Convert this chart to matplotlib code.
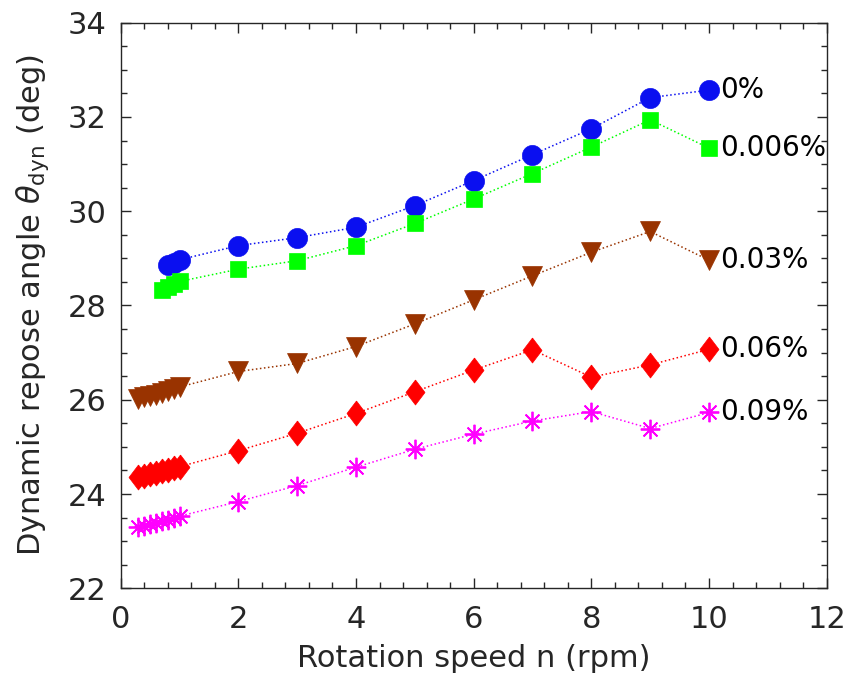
import matplotlib
matplotlib.use('Agg')
import matplotlib.pyplot as plt
import numpy as np

# rotation speed (rpm) for each series
n_low = [0.3, 0.4, 0.5, 0.6, 0.7, 0.8, 0.9, 1.0]
n_high = [2, 3, 4, 5, 6, 7, 8, 9, 10]

n_0 = [0.8, 0.9, 1.0] + n_high
theta_0 = [28.86, 28.91, 28.97, 29.27, 29.44, 29.66, 30.12, 30.65, 31.20, 31.75, 32.41, 32.57]

n_006 = [0.7, 0.8, 0.9, 1.0] + n_high
theta_006 = [28.33, 28.40, 28.45, 28.51, 28.77, 28.95, 29.27, 29.74, 30.26, 30.80, 31.36, 31.94, 31.34]

n_03 = n_low + n_high
theta_03 = [26.02, 26.05, 26.08, 26.11, 26.14, 26.18, 26.22, 26.27,
            26.60, 26.77, 27.13, 27.61, 28.12, 28.63, 29.13, 29.57, 28.96]

n_06 = n_low + n_high
theta_06 = [24.36, 24.39, 24.42, 24.45, 24.48, 24.51, 24.55, 24.58,
            24.92, 25.29, 25.71, 26.17, 26.63, 27.06, 26.48, 26.74, 27.07]

n_09 = n_low + n_high
theta_09 = [23.30, 23.33, 23.36, 23.39, 23.42, 23.45, 23.49, 23.53,
            23.84, 24.18, 24.57, 24.95, 25.27, 25.55, 25.75, 25.39, 25.73]

labels = ['0%', '0.006%', '0.03%', '0.06%', '0.09%']

fig = plt.figure(figsize=(8.51, 6.94), dpi=100)
ax = fig.add_axes([0.1418, 0.1523, 0.8296, 0.815])

diamond = [(0, 1), (0.76, 0), (0, -1), (-0.76, 0), (0, 1)]

series = [
    (n_0, theta_0, '#0a0ff0', 'o', 14.5),
    (n_006, theta_006, '#00ff00', 's', 11),
    (n_03, theta_03, '#993300', 'v', 15),
    (n_06, theta_06, '#ff0000', diamond, 18),
    (n_09, theta_09, '#ff00ff', (8, 2, 0), 14),
]

for (x, y, c, m, ms), lab in zip(series, labels):
    if m == (8, 2, 0):
        ax.plot(x, y, linestyle=':', color=c, lw=1.1, marker=m, markersize=ms,
                markeredgecolor=c, markeredgewidth=1.3)
    else:
        ax.plot(x, y, linestyle=':', color=c, lw=1.1, marker=m, markersize=ms,
                markerfacecolor=c, markeredgecolor=c, markeredgewidth=0.5)
    ax.text(x[-1] + 0.19, y[-1], lab, fontsize=20, va='center', ha='left', color='black')

ax.set_xlim(0, 12)
ax.set_ylim(22, 34)
ax.set_xticks(np.arange(0, 13, 2))
ax.set_yticks(np.arange(22, 35, 2))
ax.xaxis.set_minor_locator(matplotlib.ticker.MultipleLocator(0.4))
ax.yaxis.set_minor_locator(matplotlib.ticker.MultipleLocator(0.5))

gray = '#262626'
ax.tick_params(which='both', direction='in', top=True, right=True, colors=gray,
               labelsize=22, width=1.0)
ax.tick_params(which='major', length=7)
ax.tick_params(which='minor', length=4.5)
ax.tick_params(axis='x', pad=12)
ax.tick_params(axis='y', pad=10)
for s in ax.spines.values():
    s.set_color(gray)
    s.set_linewidth(1.0)

ax.set_xlabel('Rotation speed n (rpm)', fontsize=22, color=gray, labelpad=7)
ax.set_ylabel(r'Dynamic repose angle $\theta_{\mathrm{dyn}}$ (deg)', fontsize=22,
              color=gray, labelpad=12)

plt.savefig('out.png', dpi=100)
